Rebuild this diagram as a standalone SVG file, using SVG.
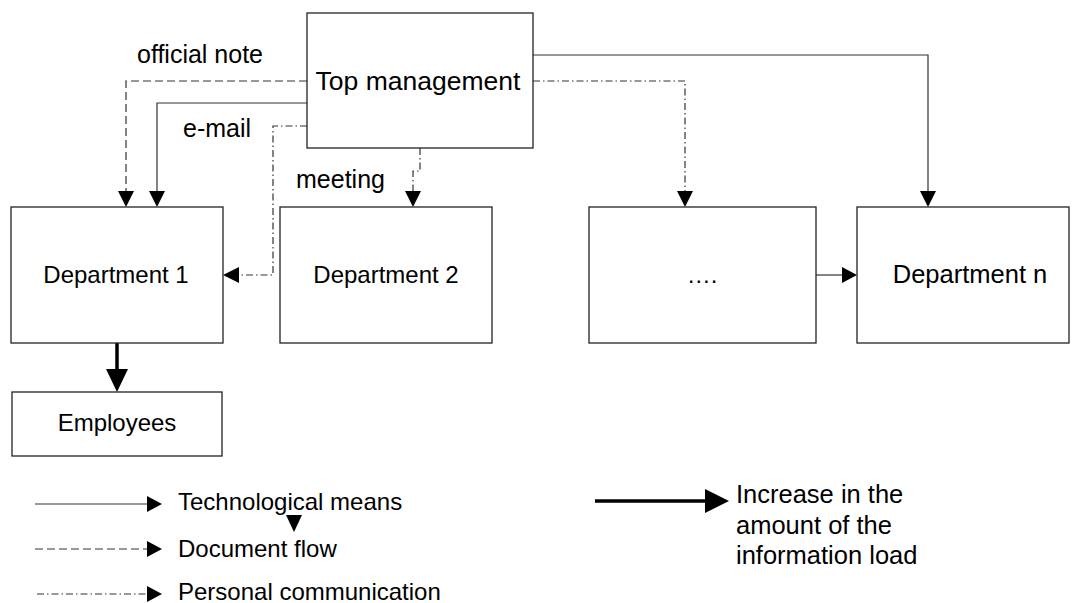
<svg xmlns="http://www.w3.org/2000/svg" width="1073" height="603" viewBox="0 0 1073 603">
<style>
.box{fill:#fff;stroke:#222;stroke-width:1.3}
.t{font-family:"Liberation Sans",Arial,sans-serif;font-size:24px;fill:#000}
.lb{font-size:25px}
.c{text-anchor:middle}
.ln{fill:none;stroke:#333;stroke-width:1.2}
.dash{stroke-dasharray:8 4}
.dd{stroke-dasharray:7 3 1.5 3}
.thick{fill:none;stroke:#000;stroke-width:3.5}
.ah{fill:#000}
</style>
<rect width="1073" height="603" fill="#fff"/>
<g id="connectors">
  <polyline class="ln dash" points="307,81 126,81 126,191"/>
  <polygon class="ah" points="118,191 134,191 126,207"/>
  <polyline class="ln" points="307,103 157,103 157,191"/>
  <polygon class="ah" points="149,191 165,191 157,207"/>
  <polyline class="ln dd" points="307,126 273,126 273,275 239,275"/>
  <polygon class="ah" points="239,267 239,283 223,275"/>
  <polyline class="ln dd" points="420,148 420,171 413,171 413,191"/>
  <polygon class="ah" points="405,191 421,191 413,207"/>
  <polyline class="ln dd" points="533,81 685,81 685,191"/>
  <polygon class="ah" points="677,191 693,191 685,207"/>
  <polyline class="ln" points="533,55 928,55 928,191"/>
  <polygon class="ah" points="920,191 936,191 928,207"/>
  <line class="ln" x1="816" y1="275" x2="842" y2="275"/>
  <polygon class="ah" points="842,267 842,283 857,275"/>
  <line class="thick" x1="117" y1="343" x2="117" y2="370"/>
  <polygon class="ah" points="106,369 128,369 117,392"/>
</g>
<g id="labels">
  <text class="t lb" x="137" y="63">official note</text>
  <text class="t lb" x="183" y="137">e-mail</text>
  <text class="t lb" x="296" y="188">meeting</text>
</g>
<g id="top-management">
  <rect class="box" x="307" y="13" width="226" height="135"/>
  <text class="t c" x="418" y="90" style="font-size:26.5px">Top management</text>
</g>
<g id="department-1">
  <rect class="box" x="11" y="207" width="212" height="136"/>
  <text class="t c" x="116" y="283">Department 1</text>
</g>
<g id="department-2">
  <rect class="box" x="280" y="207" width="212" height="136"/>
  <text class="t c" x="386" y="283">Department 2</text>
</g>
<g id="department-dots">
  <rect class="box" x="589" y="207" width="227" height="136"/>
  <text class="t c" x="702" y="283">….</text>
</g>
<g id="department-n">
  <rect class="box" x="857" y="207" width="212" height="136"/>
  <text class="t c" x="970" y="283" style="font-size:25.5px">Department n</text>
</g>
<g id="employees">
  <rect class="box" x="12" y="392" width="210" height="64"/>
  <text class="t c" x="117" y="431">Employees</text>
</g>
<g id="legend">
  <line class="ln" x1="35" y1="504" x2="147" y2="504"/>
  <polygon class="ah" points="147,496 147,512 162,504"/>
  <text class="t" x="178" y="510">Technological means</text>
  <polygon class="ah" points="286,515 302,515 294,532"/>
  <line class="ln dash" x1="35" y1="549" x2="147" y2="549"/>
  <polygon class="ah" points="147,541 147,557 162,549"/>
  <text class="t" x="178" y="557">Document flow</text>
  <line class="ln dd" x1="37" y1="594" x2="147" y2="594"/>
  <polygon class="ah" points="147,586 147,602 162,594"/>
  <text class="t" x="178" y="600">Personal communication</text>
  <line class="thick" x1="595" y1="501" x2="706" y2="501"/>
  <polygon class="ah" points="705,489 705,513 729,501"/>
  <text class="t" x="736" y="503" style="font-size:25.5px">Increase in the</text>
  <text class="t" x="736" y="534" style="font-size:25.5px">amount of the</text>
  <text class="t" x="736" y="564" style="font-size:25.5px">information load</text>
</g>
</svg>
